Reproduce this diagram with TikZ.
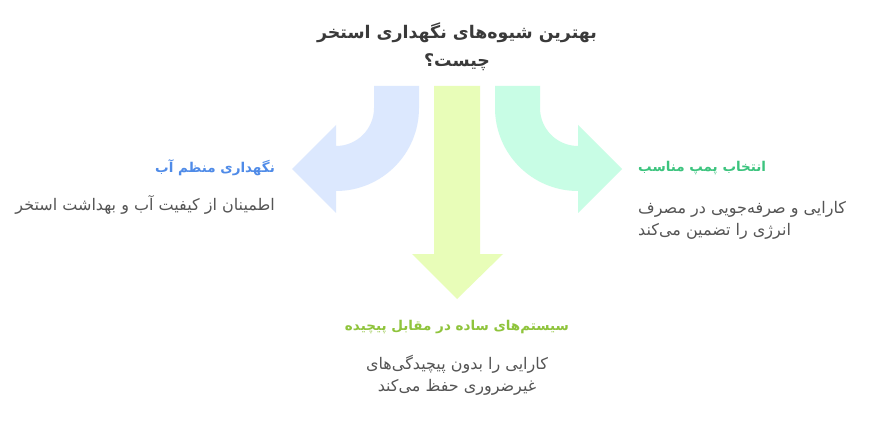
\documentclass[tikz,border=0pt]{standalone}
\usepackage{fontspec}
\setmainfont{DejaVu Sans}
\newfontfamily\arabicfont[Script=Arabic]{DejaVu Sans}
\TeXXeTstate=1
\definecolor{arrowblue}{HTML}{DCE8FE}
\definecolor{arrowlime}{HTML}{E8FDB8}
\definecolor{arrowmint}{HTML}{C8FDE5}
\definecolor{headblue}{HTML}{4F8BE8}
\definecolor{headgreen}{HTML}{3CC47E}
\definecolor{headlime}{HTML}{8FC43C}
\definecolor{titlegray}{HTML}{3A3A3A}
\definecolor{bodygray}{HTML}{555555}
\begin{document}
\begin{tikzpicture}[x=1pt,y=-1pt,
  titletext/.style={font=\arabicfont\bfseries\fontsize{17.4}{28}\selectfont, text=titlegray, align=center, inner sep=0pt},
  headtext/.style={font=\arabicfont\bfseries\fontsize{13.5}{20}\selectfont, inner sep=0pt},
  bodytext/.style={font=\arabicfont\fontsize{16}{22}\selectfont, text=bodygray, inner sep=0pt}]
\useasboundingbox[fill=white] (0,0) rectangle (890,446);
% arrows
\fill[arrowblue] (374,86) -- (419,86) -- (419,108) arc[start angle=0, end angle=90, radius=83]
  -- (336,213) -- (292,169) -- (336,125) -- (336,146) arc[start angle=90, end angle=0, radius=38] -- cycle;
\fill[arrowmint] (540,86) -- (495,86) -- (495,108) arc[start angle=180, end angle=90, radius=83]
  -- (578,213) -- (622,169) -- (578,125) -- (578,146) arc[start angle=90, end angle=180, radius=38] -- cycle;
\fill[arrowlime] (434,86) -- (480,86) -- (480,254) -- (503,254) -- (457,299) -- (412,254) -- (434,254) -- cycle;
% title
\node[titletext] (title) at (457,47) {\beginR بهترین شیوه‌های نگهداری استخر\endR\\\beginR چیست؟\endR};
% left
\node[headtext, text=headblue, anchor=east] (lhead) at (275,168) {\beginR نگهداری منظم آب\endR};
\node[bodytext, anchor=east] (lbody) at (275,205) {\beginR اطمینان از کیفیت آب و بهداشت استخر\endR};
% right
\node[headtext, text=headgreen, anchor=west] (rhead) at (638,168) {\beginR انتخاب پمپ مناسب\endR};
\node[bodytext, anchor=north west, align=left] (rbody) at (638,201) {\beginR کارایی و صرفه‌جویی در مصرف\endR\\\beginR انرژی را تضمین می‌کند\endR};
% bottom
\node[headtext, text=headlime] (bhead) at (457,327) {\beginR سیستم‌های ساده در مقابل پیچیده\endR};
\node[bodytext, align=center, anchor=north] (bbody) at (457,355) {\beginR کارایی را بدون پیچیدگی‌های\endR\\\beginR غیرضروری حفظ می‌کند\endR};
\end{tikzpicture}
\end{document}
